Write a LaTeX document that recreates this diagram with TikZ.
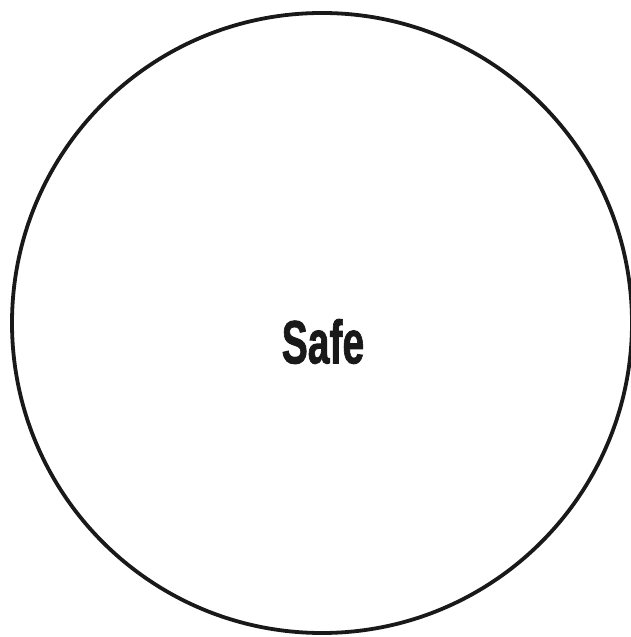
\documentclass[tikz,border=0pt]{standalone}
\usepackage{fontspec}
\newfontfamily\labelfont[BoldFeatures={FakeBold=1.6}]{Liberation Sans}
\begin{document}
\begin{tikzpicture}[x=1pt,y=1pt,
  ring/.style={draw=black!90, line width=3.8pt, circle, minimum size=620pt, inner sep=0pt},
  lbl/.style={font=\labelfont\bfseries\fontsize{61}{61}\selectfont, xscale=0.64, inner sep=0pt}]
\useasboundingbox[fill=white] (0,0) rectangle (631,637);
\node[ring] (c) at (322,314) {};
\node[lbl, text=black!90] (t) at (323,295.5) {Safe};
\end{tikzpicture}
\end{document}
